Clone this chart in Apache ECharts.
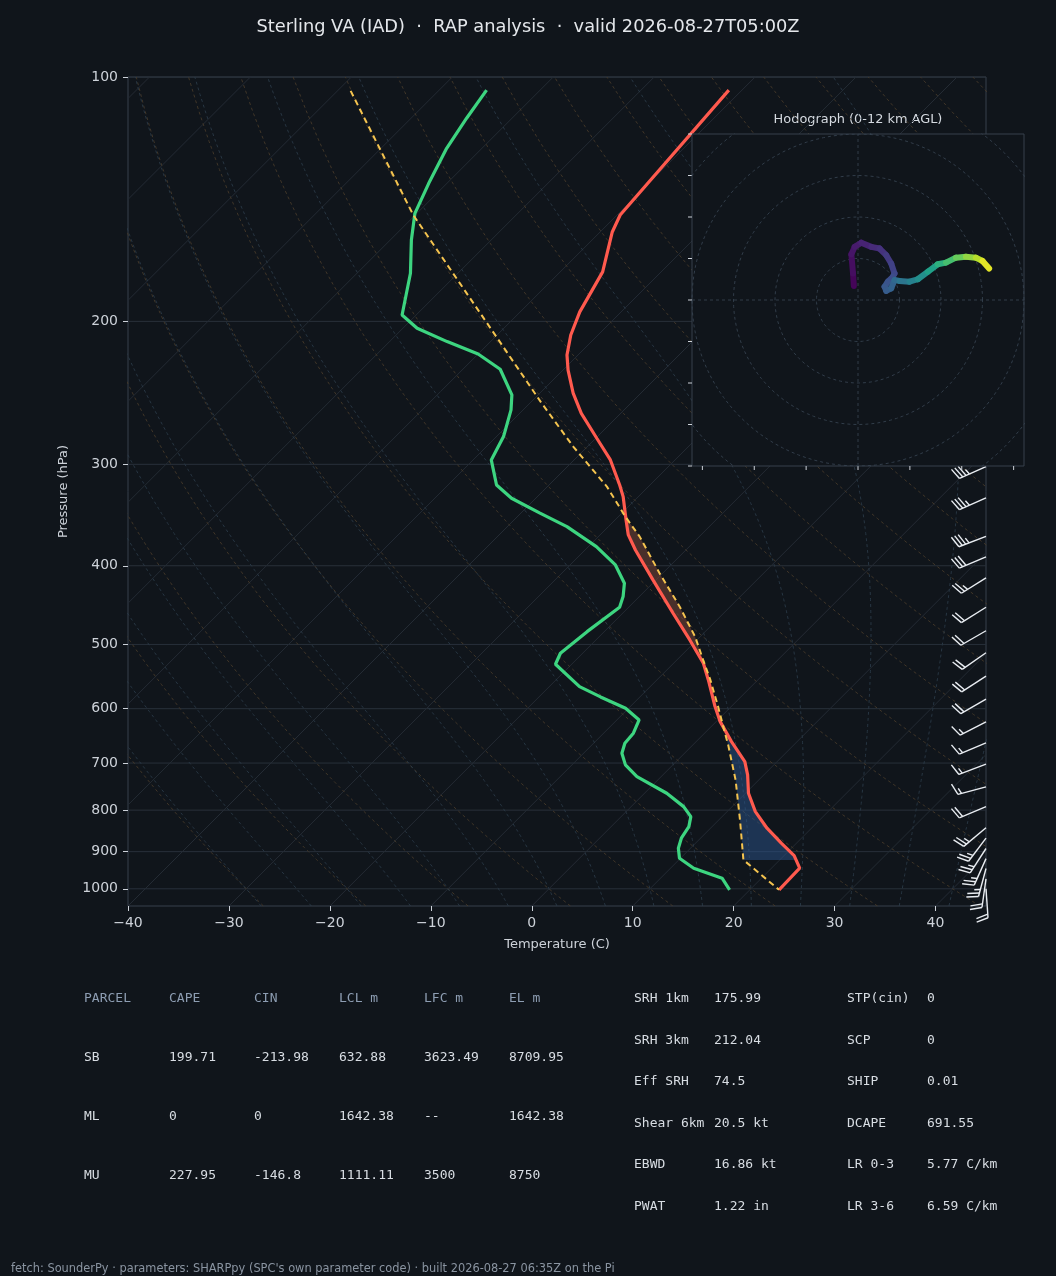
<!DOCTYPE html>
<html>
<head>
<meta charset="utf-8">
<script src="https://cdn.jsdelivr.net/npm/echarts@6/dist/echarts.min.js"></script>
<style>
  html, body { margin: 0; padding: 0; background: #10151b; }
  #main { width: 1056px; height: 1276px; }
</style>
</head>
<body>
<div id="main"></div>
<script>
// sounding: pressure (hPa) top -> bottom, temperature (C)
var tempP = [103.8, 147.9, 155.2, 173.8, 194.7, 207.9, 220.0, 229.6, 245.2, 259.6, 278.6, 296.3, 318.1, 328.8, 351.3, 366.5, 382.5, 416.4, 457.7, 493.7, 527.4, 553.0, 596.4, 622.4, 658.7, 697.1, 724.0, 762.6, 803.4, 842.1, 878.7, 910.1, 943.3, 1003];
var tempT = [-61.3, -59.7, -58.8, -55.8, -54.1, -52.7, -51.1, -49.5, -46.7, -43.9, -39.9, -36.4, -33.0, -31.5, -28.9, -27.2, -25.0, -20.3, -15.0, -10.7, -7.05, -4.9, -1.6, 0.4, 3.5, 6.8, 8.4, 10.3, 12.8, 15.6, 18.5, 21.0, 22.8, 22.9];

var dewP = [103.8, 112.4, 122.4, 135.2, 147.2, 158.8, 174.5, 196.4, 203.9, 211.8, 219.4, 229.1, 246.4, 257.1, 277.3, 296.3, 318.1, 330.3, 344.6, 358.0, 378.9, 399.1, 420.3, 436.6, 449.9, 482.2, 512.7, 528.9, 563.6, 580.3, 599.2, 619.4, 643.2, 661.8, 680.9, 703.7, 727.5, 762.6, 792.1, 814.8, 838.3, 866.3, 891.3, 916.9, 943.3, 970.4, 1003];
var dewT = [-85.3, -84.5, -83.5, -81.8, -80.2, -77.9, -74.7, -71.4, -68.6, -64.3, -60.0, -56.3, -52.6, -51.2, -49.3, -48.2, -45.2, -42.4, -38.1, -34.1, -29.2, -25.5, -22.8, -21.6, -20.9, -21.7, -22.2, -21.6, -17.0, -13.9, -10.3, -7.8, -7.05, -6.9, -6.2, -4.7, -2.4, 2.2, 5.2, 6.9, 7.7, 8.1, 8.8, 9.9, 12.3, 16.1, 18.0];

var parcelP = [104.0, 147.9, 199.2, 251.1, 285.3, 319.6, 348.0, 368.3, 408.6, 449.2, 489.1, 522.5, 553.0, 596.4, 631.3, 664.9, 734.3, 822.5, 921.3, 1003];
var parcelT = [-98.7, -80.2, -62.7, -49.1, -41.4, -34.1, -29.3, -25.9, -20.3, -15.0, -10.5, -7.4, -4.7, -1.3, 1.2, 3.5, 7.7, 12.1, 16.4, 22.9];

// shaded layers (hPa ranges)
var cinLayer = [622, 921.3];
var capeLayer = [350, 545];

// wind barbs: pressure, direction (deg), speed (kt)
var barbP = [302, 330, 368, 390, 414, 450, 481, 512, 547, 584, 623, 661, 702, 749, 792, 841, 866, 892, 918, 944, 972, 1000];
var barbDir = [246, 246, 249, 247, 238, 238, 240, 235, 237, 240, 243, 247, 249, 255, 247, 230, 217, 213, 204, 195, 188, 176];
var barbSpd = [35, 35, 35, 30, 25, 20, 20, 20, 20, 20, 15, 15, 15, 15, 20, 25, 25, 25, 25, 25, 20, 20];

// hodograph u, v (kt) and height (km)
var hodoU = [-1.0, -1.2, -1.6, -0.8, 0.8, 3.2, 5.2, 6.8, 8.0, 8.8, 8.4, 7.2, 6.4, 6.8, 8.0, 8.8, 10.0, 12.4, 14.4, 16.8, 19.2, 21.2, 23.6, 26.0, 28.4, 30.0, 31.6];
var hodoV = [3.4, 6.4, 11.0, 12.8, 13.8, 12.8, 12.4, 10.8, 8.8, 6.4, 5.6, 4.4, 3.2, 2.2, 2.8, 4.8, 4.6, 4.4, 5.0, 6.8, 8.6, 9.0, 10.2, 10.4, 10.2, 9.4, 7.6];
var hodoH = [0, 0.3, 0.6, 0.8, 1.0, 1.3, 1.6, 1.9, 2.2, 2.5, 2.7, 3.0, 3.2, 3.4, 3.6, 3.9, 4.3, 5.0, 5.6, 6.3, 7.2, 8.0, 8.8, 9.6, 10.4, 11.0, 12.0];

var pressureTicks = [100, 200, 300, 400, 500, 600, 700, 800, 900, 1000];
var tempTicks = [-40, -30, -20, -10, 0, 10, 20, 30, 40];

var parcelHeader = ['PARCEL', 'CAPE', 'CIN', 'LCL m', 'LFC m', 'EL m'];
var parcelRows = [
    ['SB', '199.71', '-213.98', '632.88', '3623.49', '8709.95'],
    ['ML', '0', '0', '1642.38', '--', '1642.38'],
    ['MU', '227.95', '-146.8', '1111.11', '3500', '8750']
];
var indexRows = [
    ['SRH 1km', '175.99', 'STP(cin)', '0'],
    ['SRH 3km', '212.04', 'SCP', '0'],
    ['Eff SRH', '74.5', 'SHIP', '0.01'],
    ['Shear 6km', '20.5 kt', 'DCAPE', '691.55'],
    ['EBWD', '16.86 kt', 'LR 0-3', '5.77 C/km'],
    ['PWAT', '1.22 in', 'LR 3-6', '6.59 C/km']
];

var TITLE = 'Sterling VA (IAD)  \u00b7  RAP analysis  \u00b7  valid 2026-08-27T05:00Z';
var FOOTER = "fetch: SounderPy \u00b7 parameters: SHARPpy (SPC's own parameter code) \u00b7 built 2026-08-27 06:35Z on the Pi";

// ---- skew-T geometry ----
var GRID = {left: 128, top: 77, width: 858, height: 829};
var P_TOP = 100, P_BOT = 1050, X_MIN = -40, X_MAX = 45;
// isotherms at 45 degrees on screen
var SKEW = (GRID.height / Math.log(P_BOT / P_TOP)) / (GRID.width / (X_MAX - X_MIN));
function sx(t, p) { return t + SKEW * Math.log(P_BOT / p); }

var FONT = 'DejaVu Sans';
var MONO = 'DejaVu Sans Mono';
var TXT = '#cdd2d9';
var BG = '#10151b';

function interpT(P, T, p) {
    if (p <= P[0]) return T[0];
    for (var i = 1; i < P.length; i++) {
        if (p <= P[i]) {
            var f = Math.log(p / P[i - 1]) / Math.log(P[i] / P[i - 1]);
            return T[i - 1] + f * (T[i] - T[i - 1]);
        }
    }
    return T[T.length - 1];
}

function profile(P, T) {
    return P.map(function (p, i) { return [sx(T[i], p), p]; });
}

// ---- background lines ----
function isobarData() {
    var d = [];
    pressureTicks.forEach(function (p) { d.push([X_MIN, p], [X_MAX, p], ['-', '-']); });
    return d;
}
function isothermData() {
    var d = [];
    for (var t = -130; t <= 40; t += 10) d.push([sx(t, P_BOT), P_BOT], [sx(t, P_TOP), P_TOP], ['-', '-']);
    return d;
}
function dryData() {
    var d = [];
    for (var t0 = -30; t0 <= 200; t0 += 10) {
        for (var p = P_BOT; p >= P_TOP; p -= 10) {
            var t = (t0 + 273.15) * Math.pow(p / 1000, 0.2857) - 273.15;
            d.push([sx(t, p), p]);
        }
        d.push(['-', '-']);
    }
    return d;
}
function moistLapse(p, tk) {
    var tc = tk - 273.15;
    var es = 6.112 * Math.exp(17.67 * tc / (tc + 243.5));
    var rs = 0.622 * es / (p - es);
    var Rd = 287.04, Cp = 1005.7, Lv = 2.501e6;
    return (Rd * tk + Lv * rs) / (Cp + Lv * Lv * rs * 0.622 / (Rd * tk * tk)) / p;
}
function moistData() {
    var d = [];
    for (var t0 = -30; t0 <= 45; t0 += 5) {
        var down = [], up = [];
        var tk = t0 + 273.15, p = 1000, dp, k1, k2;
        while (p < P_BOT) {
            dp = 5; k1 = moistLapse(p, tk); k2 = moistLapse(p + dp / 2, tk + k1 * dp / 2);
            tk += k2 * dp; p += dp; down.push([sx(tk - 273.15, p), p]);
        }
        tk = t0 + 273.15; p = 1000; up.push([sx(t0, 1000), 1000]);
        while (p > P_TOP) {
            dp = -5; k1 = moistLapse(p, tk); k2 = moistLapse(p + dp / 2, tk + k1 * dp / 2);
            tk += k2 * dp; p += dp; up.push([sx(tk - 273.15, p), p]);
        }
        d = d.concat(down.reverse(), up);
        d.push(['-', '-']);
    }
    return d;
}

// ---- shading between env and parcel ----
function shadeRender(range, parcelLeft, color) {
    return function (params, api) {
        var left = [], right = [], n = 80;
        for (var k = 0; k <= n; k++) {
            var p = range[0] * Math.pow(range[1] / range[0], k / n);
            var te = interpT(tempP, tempT, p), tp = interpT(parcelP, parcelT, p);
            var lo = parcelLeft ? tp : te;
            var hi = Math.max(te, tp);
            left.push(api.coord([sx(lo, p), p]));
            right.push(api.coord([sx(hi, p), p]));
        }
        return {type: 'polygon', shape: {points: left.concat(right.reverse())}, style: {fill: color}};
    };
}

// ---- wind barbs ----
function renderBarb(params, api) {
    var a = api.coord([X_MAX, api.value(1)]);
    var dir = api.value(2) * Math.PI / 180, spd = api.value(3);
    var d = [Math.sin(dir), -Math.cos(dir)];
    var n = [-d[1], d[0]];
    var L = 29, H = 0.4 * L, W = 0.25 * L, SP = 0.125 * L;
    var r = Math.round(spd / 5) * 5;
    var flags = Math.floor(r / 50); r -= flags * 50;
    var full = Math.floor(r / 10); r -= full * 10;
    var half = r >= 5;
    function at(o) { return [a[0] + d[0] * o, a[1] + d[1] * o]; }
    var style = {stroke: '#e9edf2', lineWidth: 1.4, fill: null};
    var kids = [{type: 'line', shape: {x1: a[0], y1: a[1], x2: at(L)[0], y2: at(L)[1]}, style: style}];
    var off = L, i, p0, p1;
    for (i = 0; i < flags; i++) {
        p0 = at(off); p1 = at(off - W);
        var tip = at(off - W / 2);
        kids.push({type: 'polygon', shape: {points: [p0, [tip[0] + n[0] * H, tip[1] + n[1] * H], p1]}, style: {fill: '#e9edf2'}});
        off -= W + SP;
    }
    for (i = 0; i < full; i++) {
        p0 = at(off);
        kids.push({type: 'line', shape: {x1: p0[0], y1: p0[1], x2: p0[0] + n[0] * H + d[0] * W / 2, y2: p0[1] + n[1] * H + d[1] * W / 2}, style: style});
        off -= SP;
    }
    if (half) {
        if (flags === 0 && full === 0) off -= 1.5 * SP;
        p0 = at(off);
        kids.push({type: 'line', shape: {x1: p0[0], y1: p0[1], x2: p0[0] + n[0] * H / 2 + d[0] * W / 4, y2: p0[1] + n[1] * H / 2 + d[1] * W / 4}, style: style});
    }
    return {type: 'group', children: kids};
}

// ---- hodograph ----
function renderHodoFrame(params, api) {
    var tl = api.coord([-40, 40]), br = api.coord([40, -40]);
    var kids = [{type: 'rect', shape: {x: tl[0], y: tl[1], width: br[0] - tl[0], height: br[1] - tl[1]},
        style: {fill: BG, stroke: '#36404c', lineWidth: 1}}];
    var tick = {stroke: TXT, lineWidth: 1};
    for (var v = -40; v <= 40; v += 10) {
        var c = api.coord([-40, v]);
        kids.push({type: 'line', shape: {x1: c[0] - 4, y1: c[1], x2: c[0], y2: c[1]}, style: tick});
    }
    for (var u = -37.5; u <= 37.5; u += 12.5) {
        var c2 = api.coord([u, -40]);
        kids.push({type: 'line', shape: {x1: c2[0], y1: c2[1], x2: c2[0], y2: c2[1] + 4}, style: tick});
    }
    return {type: 'group', children: kids};
}
function ringData() {
    var d = [];
    for (var r = 10; r <= 60; r += 10) {
        for (var a = 0; a <= 360; a += 3) d.push([r * Math.cos(a * Math.PI / 180), r * Math.sin(a * Math.PI / 180)]);
        d.push(['-', '-']);
    }
    d.push([-40, 0], [40, 0], ['-', '-'], [0, -40], [0, 40]);
    return d;
}
function renderHodoSeg(params, api) {
    var p1 = api.coord([api.value(0), api.value(1)]);
    var p2 = api.coord([api.value(3), api.value(4)]);
    return {type: 'line', shape: {x1: p1[0], y1: p1[1], x2: p2[0], y2: p2[1]},
        style: {stroke: api.visual('color'), lineWidth: 6, lineCap: 'round'}};
}
var hodoSegs = [];
for (var i = 0; i < hodoU.length - 1; i++) {
    hodoSegs.push([hodoU[i], hodoV[i], (hodoH[i] + hodoH[i + 1]) / 2, hodoU[i + 1], hodoV[i + 1]]);
}

var VIRIDIS = ['#440154', '#482878', '#3e4989', '#31688e', '#26828e', '#1f9e89', '#35b779', '#6ece58', '#b5de2b', '#fde725'];

// ---- series ----
var series = [
    {type: 'line', name: 'isobars', data: isobarData(), symbol: 'none', silent: true, z: 1,
        lineStyle: {color: '#28303a', width: 1}},
    {type: 'line', name: 'isotherms', data: isothermData(), symbol: 'none', silent: true, z: 1,
        lineStyle: {color: '#242b34', width: 1}},
    {type: 'line', name: 'dry adiabats', data: dryData(), symbol: 'none', silent: true, z: 1,
        lineStyle: {color: '#463a2a', width: 0.9, type: [3, 3]}},
    {type: 'line', name: 'moist adiabats', data: moistData(), symbol: 'none', silent: true, z: 1,
        lineStyle: {color: '#2a3a47', width: 0.9, type: [3, 3]}},
    {type: 'custom', name: 'cin', data: [[0, 500]], renderItem: shadeRender(cinLayer, true, 'rgba(42,84,140,0.5)'), silent: true, z: 2},
    {type: 'custom', name: 'cape', data: [[0, 500]], renderItem: shadeRender(capeLayer, false, 'rgba(130,74,58,0.5)'), silent: true, z: 2},
    {type: 'line', name: 'parcel', data: profile(parcelP, parcelT), symbol: 'none', silent: true, z: 4,
        lineStyle: {color: '#f5c44f', width: 2, type: [6, 4]}},
    {type: 'line', name: 'dewpoint', data: profile(dewP, dewT), symbol: 'none', silent: true, z: 3,
        lineStyle: {color: '#3dd580', width: 3.2}},
    {type: 'line', name: 'temperature', data: profile(tempP, tempT), symbol: 'none', silent: true, z: 3,
        lineStyle: {color: '#ff5a4e', width: 3.2}},
    {type: 'custom', name: 'barbs', dimensions: ['x', 'p', 'dir', 'spd'], encode: {x: 0, y: 1},
        data: barbP.map(function (p, i) { return [X_MAX, p, barbDir[i], barbSpd[i]]; }),
        renderItem: renderBarb, clip: false, silent: true, z: 5},
    {type: 'custom', name: 'hodo frame', xAxisIndex: 1, yAxisIndex: 1, data: [[0, 0]],
        renderItem: renderHodoFrame, silent: true, z: 10},
    {type: 'line', name: 'hodo rings', xAxisIndex: 1, yAxisIndex: 1, data: ringData(), symbol: 'none', silent: true, z: 11,
        lineStyle: {color: '#36424f', width: 0.9, type: [3, 3]}}
];
var hodoIndex = series.length;
series.push({type: 'custom', name: 'hodograph', xAxisIndex: 1, yAxisIndex: 1,
    dimensions: ['u', 'v', 'h', 'u2', 'v2'], encode: {x: 0, y: 1},
    data: hodoSegs, renderItem: renderHodoSeg, silent: true, z: 12});

// ---- text ----
var graphics = [];
function txt(x, y, s, color, font, align) {
    graphics.push({type: 'text', x: x, y: y, silent: true,
        style: {text: s, fill: color, font: font, align: align || 'left', verticalAlign: 'middle'}});
}
txt(528, 27, TITLE, '#e4e7eb', '17.8px "' + FONT + '"', 'center');
txt(858, 120, 'Hodograph (0-12 km AGL)', '#d5dae0', '12.9px "' + FONT + '"', 'center');
var lx = [84, 169, 254, 339, 424, 509], ly = [999, 1058, 1117, 1176];
parcelHeader.forEach(function (s, j) { txt(lx[j], ly[0], s, '#8d9db2', '13px "' + MONO + '"'); });
parcelRows.forEach(function (row, i) {
    row.forEach(function (s, j) { txt(lx[j], ly[i + 1], s, '#d8dde3', '13px "' + MONO + '"'); });
});
var rx = [634, 714, 847, 927], ry = [999, 1041, 1082, 1124, 1165, 1207];
indexRows.forEach(function (row, i) {
    row.forEach(function (s, j) { txt(rx[j], ry[i], s, '#d8dde3', '13px "' + MONO + '"'); });
});
txt(11, 1269, FOOTER, '#8a94a1', '11.4px "' + FONT + '"');

function fmtMinus(v) { return v < 0 ? '\u2212' + Math.abs(v) : String(v); }

var myChart = echarts.init(document.getElementById('main'));
var option = {
    backgroundColor: BG,
    animation: false,
    grid: [
        {left: GRID.left, top: GRID.top, width: GRID.width, height: GRID.height, show: true,
            borderColor: '#36404c', borderWidth: 1, backgroundColor: 'transparent'},
        {left: 692, top: 134, width: 332, height: 332}
    ],
    xAxis: [
        {type: 'value', min: X_MIN, max: X_MAX, interval: 10,
            axisLine: {show: false, onZero: false}, splitLine: {show: false},
            axisTick: {show: true, length: 5, customValues: tempTicks, lineStyle: {color: TXT}},
            axisLabel: {customValues: tempTicks, color: TXT, fontSize: 14, fontFamily: FONT, margin: 10, formatter: fmtMinus},
            name: 'Temperature (C)', nameLocation: 'middle', nameGap: 32,
            nameTextStyle: {color: TXT, fontSize: 13, fontFamily: FONT}},
        {type: 'value', gridIndex: 1, min: -40, max: 40, show: false}
    ],
    yAxis: [
        {type: 'log', logBase: 10, min: P_TOP, max: P_BOT, inverse: true,
            axisLine: {show: false, onZero: false}, splitLine: {show: false}, minorTick: {show: false},
            axisTick: {show: true, length: 5, customValues: pressureTicks, lineStyle: {color: TXT}},
            axisLabel: {customValues: pressureTicks, color: TXT, fontSize: 14, fontFamily: FONT, margin: 10,
                formatter: function (v) { return String(Math.round(v)); }},
            name: 'Pressure (hPa)', nameLocation: 'middle', nameGap: 58, nameRotate: 90,
            nameTextStyle: {color: TXT, fontSize: 13, fontFamily: FONT}},
        {type: 'value', gridIndex: 1, min: -40, max: 40, show: false}
    ],
    visualMap: [{type: 'continuous', show: false, seriesIndex: hodoIndex, dimension: 2,
        min: 0, max: 12, inRange: {color: VIRIDIS}}],
    graphic: graphics,
    series: series
};
myChart.setOption(option);
</script>
</body>
</html>
